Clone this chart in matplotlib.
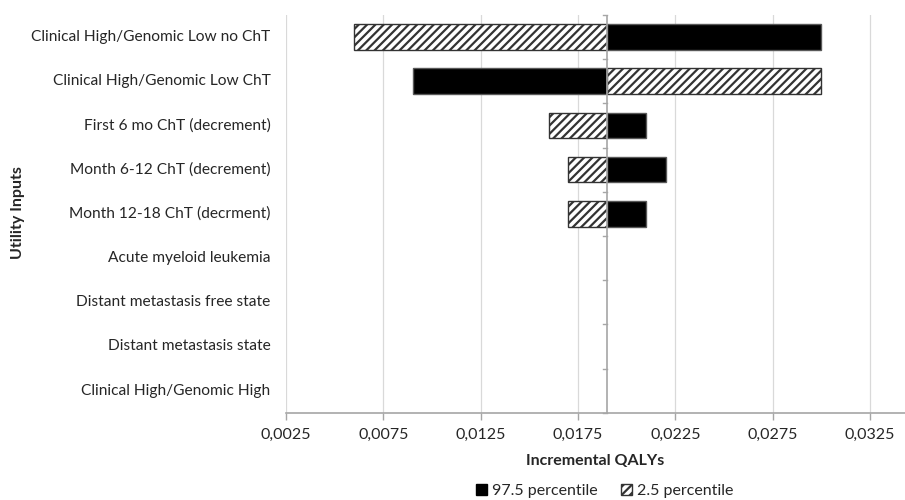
import numpy as np
import matplotlib
matplotlib.use("Agg")
import matplotlib.pyplot as plt
from matplotlib.ticker import FuncFormatter, FixedLocator
from matplotlib.patches import Patch

# utility inputs, top to bottom
categories = [
    "Clinical High/Genomic Low no ChT",
    "Clinical High/Genomic Low ChT",
    "First 6 mo ChT (decrement)",
    "Month 6-12 ChT (decrement)",
    "Month 12-18 ChT (decrment)",
    "Acute myeloid leukemia",
    "Distant metastasis free state",
    "Distant metastasis state",
    "Clinical High/Genomic High",
]
base_value = 0.019
p975 = [0.030, 0.009, 0.021, 0.022, 0.021, 0.019, 0.019, 0.019, 0.019]
p25 = [0.006, 0.030, 0.016, 0.017, 0.017, 0.019, 0.019, 0.019, 0.019]
x_ticks = [0.0025, 0.0075, 0.0125, 0.0175, 0.0225, 0.0275, 0.0325]

plt.rcParams['font.family'] = ['Lato', 'DejaVu Sans']
plt.rcParams['hatch.linewidth'] = 1.6

fig = plt.figure(figsize=(9.05, 5.0), dpi=100)
ax = fig.add_axes([0.316, 0.1746, 0.684, 0.7954])

y = np.arange(len(categories))
w975 = np.array(p975) - base_value
w25 = np.array(p25) - base_value
# no outline for zero-width bars
lw975 = np.where(w975 != 0, 1.0, 0.0)
lw25 = np.where(w25 != 0, 1.0, 0.0)

ax.barh(y, w975, left=base_value, height=0.58, color='black',
        edgecolor='#595959', linewidth=lw975, zorder=3)
ax.barh(y, w25, left=base_value, height=0.58, color='white', hatch='////',
        edgecolor='#333333', linewidth=lw25, zorder=3)

ax.set_xlim(0.0025, 0.0343)
ax.set_ylim(len(categories) - 0.5, -0.5)
ax.xaxis.set_major_locator(FixedLocator(x_ticks))
ax.xaxis.set_major_formatter(FuncFormatter(lambda v, p: f"{v:.4f}".replace('.', ',')))
ax.grid(axis='x', color='#d9d9d9', linewidth=0.9, zorder=0)

for s in ['top', 'right', 'left']:
    ax.spines[s].set_visible(False)
ax.spines['bottom'].set_color('#a6a6a6')
ax.spines['bottom'].set_linewidth(1.2)
ax.tick_params(axis='x', colors='#a6a6a6', length=5, width=1.0, labelcolor='#262626',
               labelsize=11.5, pad=6)

# category labels on the far left
ax.set_yticks([])
for i, c in enumerate(categories):
    ax.text(-0.025, i, c, transform=ax.get_yaxis_transform(), ha='right', va='center',
            fontsize=11.2, color='#262626')

# vertical axis through the base value with tick marks between categories
ax.axvline(base_value, color='#a6a6a6', linewidth=1.2, zorder=4)
for b in np.arange(-0.5, len(categories), 1.0):
    ax.plot([base_value - 0.00022, base_value], [b, b], color='#a6a6a6', linewidth=1.0,
            zorder=4, clip_on=False)

ax.set_xlabel("Incremental QALYs", fontsize=11.5, fontweight='bold', color='#262626',
              labelpad=9)
fig.text(0.02, 0.574, "Utility Inputs", rotation=90, ha='center', va='center',
         fontsize=11.5, fontweight='bold', color='#262626')

handles = [Patch(facecolor='black', edgecolor='black', label='97.5 percentile'),
           Patch(facecolor='white', edgecolor='#333333', hatch='////', label='2.5 percentile')]
fig.legend(handles=handles, loc='center', bbox_to_anchor=(0.668, 0.018), ncol=2,
           frameon=False, fontsize=11.5, handlelength=0.7, handleheight=0.7,
           handletextpad=0.3, columnspacing=1.5, labelcolor='#262626')

fig.savefig("out.png", dpi=100)
